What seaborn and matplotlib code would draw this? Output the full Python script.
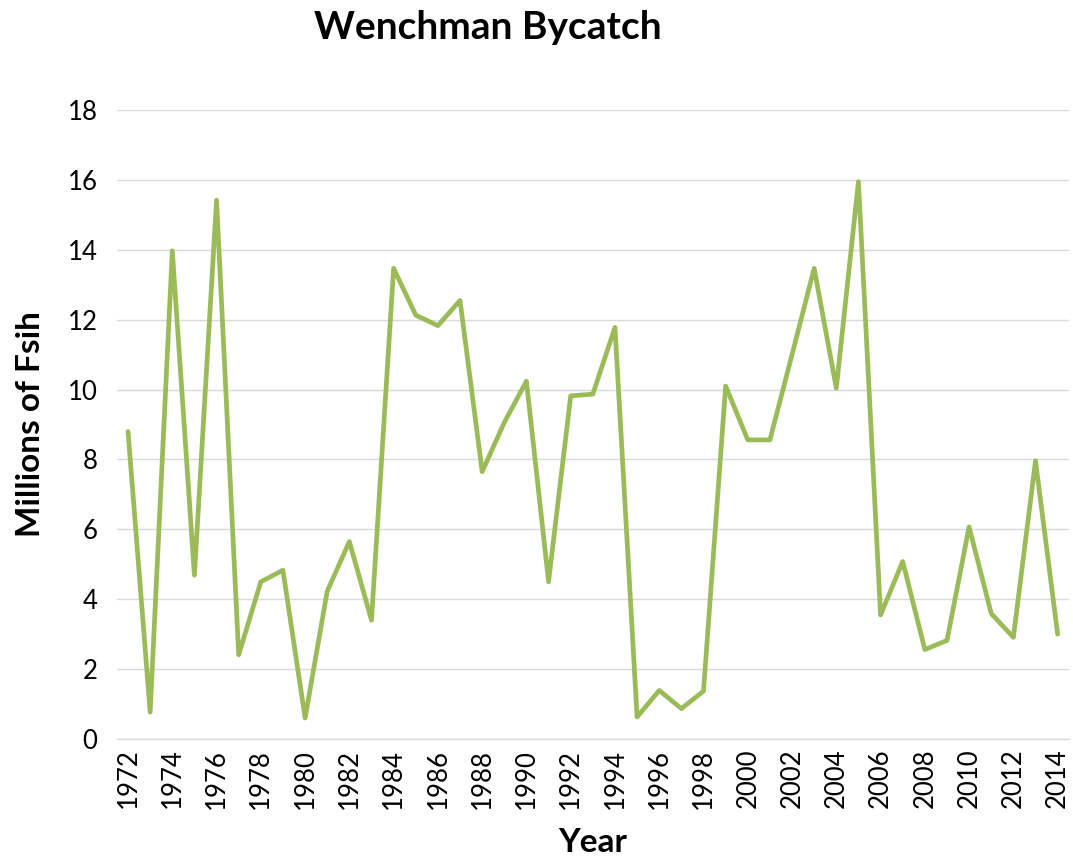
import matplotlib
matplotlib.use("Agg")
import matplotlib.pyplot as plt
import seaborn as sns
import numpy as np
import pandas as pd

# DATA
years = list(range(1972, 2015))

bycatch = [
    8.80, 0.77, 13.97, 4.69, 15.42, 2.41, 4.50, 4.83, 0.60, 4.23,
    5.65, 3.40, 13.47, 12.13, 11.83, 12.55, 7.65, 9.06, 10.24, 4.50,
    9.82, 9.87, 11.78, 0.63, 1.39, 0.87, 1.37, 10.10, 8.56, 8.56,
    11.00, 13.47, 10.04, 15.95, 3.55, 5.08, 2.56, 2.82, 6.07, 3.59,
    2.91, 7.96, 3.00
]

y_ticks = [0, 2, 4, 6, 8, 10, 12, 14, 16, 18]

df = pd.DataFrame({"Year": years, "Bycatch": bycatch})

# STYLE
sns.set_theme(style="white")
plt.rcParams['font.family'] = ['Lato', 'DejaVu Sans']
plt.rcParams['text.color'] = "#000000"
plt.rcParams['axes.labelcolor'] = "#000000"

fig = plt.figure(figsize=(10.73, 8.61), dpi=100)
ax = fig.add_axes([0.109, 0.1417, 0.887, 0.7305])

sns.lineplot(
    data=df,
    x="Year",
    y="Bycatch",
    color="#9BBB59",
    linewidth=3.4,
    ax=ax
)

# AXES
ax.set_xlim(1971.5, 2014.5)
ax.set_ylim(0, 18)
ax.set_yticks(y_ticks)
ax.set_xticks(years[::2])
ax.set_xticklabels([str(y) for y in years[::2]], rotation=90)

ax.tick_params(axis='both', length=0, labelsize=18.5, colors="#000000")
ax.tick_params(axis='y', pad=14)
ax.tick_params(axis='x', pad=7)

ax.grid(axis='y', color="#D9D9D9", linewidth=1)
ax.set_axisbelow(True)

for side in ["top", "right", "left"]:
    ax.spines[side].set_visible(False)
ax.spines["bottom"].set_color("#D9D9D9")
ax.spines["bottom"].set_linewidth(1)

ax.set_xlabel("Year", fontsize=24, fontweight="bold", labelpad=14)
ax.set_ylabel("Millions of Fsih", fontsize=24, fontweight="bold", labelpad=16)

# TITLE
fig.text(0.455, 0.968, "Wenchman Bycatch", ha="center", va="center",
         fontsize=28, fontweight="bold")

plt.savefig("out.png", dpi=100)
plt.close()
